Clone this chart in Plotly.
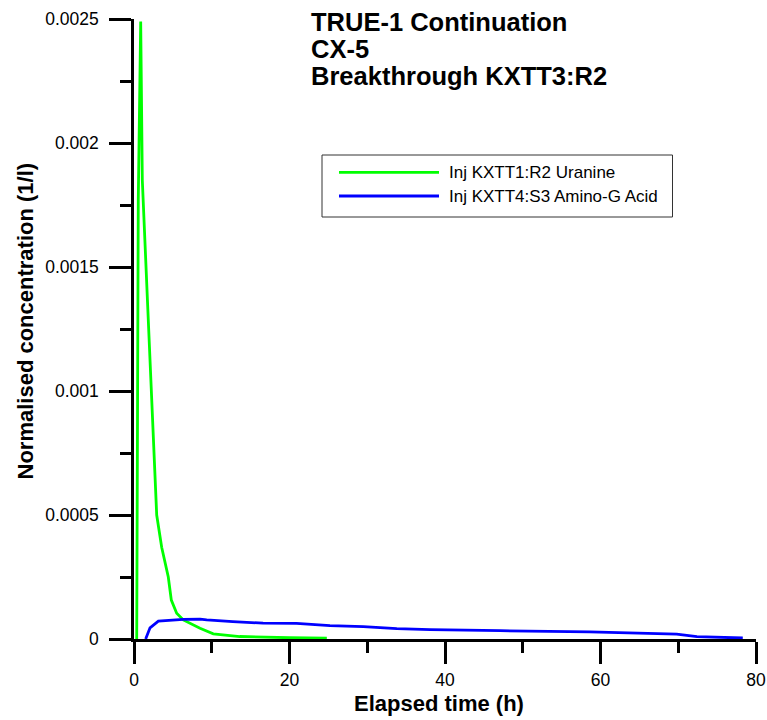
import plotly.graph_objects as go

# ---- data ----
t_uranine = [0.35, 0.55, 0.86, 1.07, 1.75, 2.37, 2.57, 2.92, 3.56, 4.41, 4.8, 5.49, 6.34, 8.49, 10.2, 13.6, 20.0, 24.8]
c_uranine = [0.0, 0.00177, 0.00249, 0.00185, 0.00135, 0.00088, 0.00075, 0.0005, 0.00037, 0.00025, 0.000157,
             0.000104, 0.000077, 0.000043, 0.000021, 0.000010, 0.000005, 0.000003]

t_amino = [1.5, 2.06, 3.13, 6.34, 8.5, 9.35, 12.7, 16.6, 20.9, 25.2, 29.5, 33.8, 38.1, 42.4, 47.1, 58.6, 69.8, 72.4, 78.3]
c_amino = [0.0, 0.000045, 0.000072, 0.000079, 0.00008, 0.000077, 0.00007, 0.000064, 0.000063, 0.000054, 0.00005,
           0.000042, 0.0000375, 0.0000365, 0.0000335, 0.000029, 0.00002, 0.0000093, 0.000004]

series_names = ["Inj KXTT1:R2 Uranine", "Inj KXTT4:S3 Amino-G Acid"]
series_colors = ["#00FF00", "#0000FF"]

x_ticks = [0, 20, 40, 60, 80]
y_ticks = [0, 0.0005, 0.001, 0.0015, 0.002, 0.0025]
y_ticklabels = ["0", "0.0005", "0.001", "0.0015", "0.002", "0.0025"]

title_lines = ["TRUE-1 Continuation", "CX-5", "Breakthrough KXTT3:R2"]
x_title = "Elapsed time (h)"
y_title = "Normalised concentration (1/l)"

FONT = "Liberation Sans, Arial, sans-serif"

W, H = 767, 720
ML, MR, MT, MB = 134, 11, 19, 81
PW, PH = W - ML - MR, H - MT - MB


def px(xp):
    return (xp - ML) / PW


def py(yp):
    return (H - MB - yp) / PH


fig = go.Figure()
fig.add_trace(go.Scatter(x=t_uranine, y=c_uranine, mode="lines", name=series_names[0],
                         line=dict(color=series_colors[0], width=2.8), showlegend=False))
fig.add_trace(go.Scatter(x=t_amino, y=c_amino, mode="lines", name=series_names[1],
                         line=dict(color=series_colors[1], width=2.8), showlegend=False))

axis_common = dict(showline=True, linecolor="black", linewidth=2.5, ticks="outside",
                   ticklen=22, tickwidth=2.7, tickcolor="black", showgrid=False, zeroline=False,
                   automargin=False,
                   tickfont=dict(family=FONT, size=17.5, color="black"))

fig.update_xaxes(range=[0, 80], tickvals=x_ticks, ticktext=[str(v) for v in x_ticks],
                 minor=dict(dtick=10, ticklen=11, tickwidth=2.7, tickcolor="black", ticks="outside"),
                 ticklabelstandoff=1, **axis_common)
fig.update_yaxes(range=[0, 0.0025], tickvals=y_ticks, ticktext=y_ticklabels,
                 minor=dict(dtick=0.00025, ticklen=11, tickwidth=2.7, tickcolor="black", ticks="outside"),
                 ticklabelstandoff=7, **axis_common)

annotations = []
# title lines
title_centers = [22.5, 49, 76]
for txt, yc in zip(title_lines, title_centers):
    annotations.append(dict(text="<b>%s</b>" % txt, xref="paper", yref="paper", x=px(309), y=py(yc),
                            xanchor="left", yanchor="middle", showarrow=False,
                            font=dict(family=FONT, size=25.5, color="black")))
# axis titles
annotations.append(dict(text="<b>%s</b>" % x_title, xref="paper", yref="paper", x=px(438.5), y=py(704),
                        xanchor="center", yanchor="middle", showarrow=False,
                        font=dict(family=FONT, size=22, color="black")))
annotations.append(dict(text="<b>%s</b>" % y_title, xref="paper", yref="paper", x=px(25), y=py(321.5),
                        xanchor="center", yanchor="middle", showarrow=False, textangle=-90,
                        font=dict(family=FONT, size=22, color="black")))

# manual legend
shapes = [dict(type="rect", xref="paper", yref="paper", x0=px(322), x1=px(672.5), y0=py(217), y1=py(155),
               line=dict(color="#333333", width=1), fillcolor="white", layer="above")]
leg_y = [172.3, 196]
for name, col, yy in zip(series_names, series_colors, leg_y):
    shapes.append(dict(type="line", xref="paper", yref="paper", x0=px(339), x1=px(439), y0=py(yy), y1=py(yy),
                       line=dict(color=col, width=2.8), layer="above"))
    annotations.append(dict(text=name, xref="paper", yref="paper", x=px(447), y=py(yy),
                            xanchor="left", yanchor="middle", showarrow=False,
                            font=dict(family=FONT, size=17, color="black")))

fig.update_layout(width=W, height=H, margin=dict(l=ML, r=MR, t=MT, b=MB, autoexpand=False),
                  paper_bgcolor="white", plot_bgcolor="white",
                  annotations=annotations, shapes=shapes, showlegend=False)

fig.write_html("out.html")
